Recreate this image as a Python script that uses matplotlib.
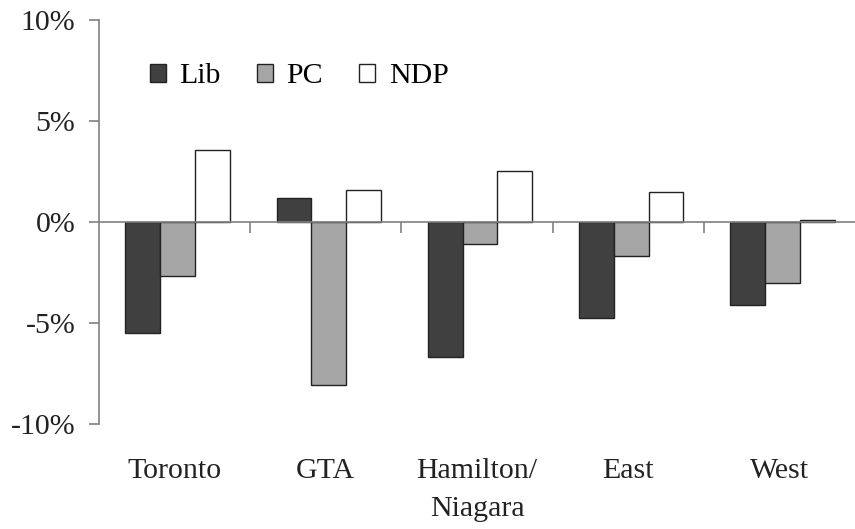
import matplotlib

matplotlib.use("Agg")
import matplotlib.pyplot as plt
import numpy as np

REGIONS = ["Toronto", "GTA", "Hamilton/\nNiagara", "East", "West"]
LIB = [-5.5, 1.15, -6.7, -4.75, -4.1]
PC = [-2.7, -8.05, -1.1, -1.7, -3.05]
NDP = [3.55, 1.55, 2.5, 1.45, 0.08]

SERIES = [("Lib", LIB, "#404040"), ("PC", PC, "#a6a6a6"), ("NDP", NDP, "#ffffff")]

plt.rcParams["font.family"] = ["Liberation Serif", "DejaVu Serif"]
FS = 21.5
AXIS_GRAY = "#808080"

fig = plt.figure(figsize=(8.55, 5.29), dpi=100)
ax = fig.add_axes([99 / 855, 105 / 529, 756 / 855, 404.5 / 529])

x = np.arange(len(REGIONS))
bw = 0.23
for i, (name, vals, col) in enumerate(SERIES):
    ax.bar(x + (i - 1) * bw + 0.02, vals, bw, color=col, edgecolor="#222222",
           linewidth=1.0, label=name, zorder=3)

ax.set_xlim(-0.5, len(REGIONS) - 0.5)
ax.set_ylim(-10, 10)
ax.set_yticks([-10, -5, 0, 5, 10])
ax.set_yticklabels(["-10%", "-5%", "0%", "5%", "10%"], fontsize=FS, color="#222222")
ax.tick_params(axis="y", direction="out", length=7, width=1.2, color=AXIS_GRAY, pad=10)

# category boundary tick marks on the zero line
ax.set_xticks(x[:-1] + 0.5)
ax.set_xticklabels([])
ax.tick_params(axis="x", direction="out", length=8, width=1.2, color=AXIS_GRAY)

for s in ["top", "right"]:
    ax.spines[s].set_visible(False)
ax.spines["left"].set_color(AXIS_GRAY)
ax.spines["left"].set_linewidth(1.2)
ax.spines["bottom"].set_position(("data", 0))
ax.spines["bottom"].set_color(AXIS_GRAY)
ax.spines["bottom"].set_linewidth(1.2)
ax.spines["bottom"].set_zorder(4)

for xi, lab in zip(x, REGIONS):
    ax.text(xi, -0.085, lab, transform=ax.get_xaxis_transform(), ha="center",
            va="top", fontsize=FS, linespacing=1.6, color="#222222")

ax.legend(loc="center left", bbox_to_anchor=(0.067, 0.86), ncol=3, frameon=False,
          fontsize=FS, handlelength=0.55, handleheight=0.55, handletextpad=0.45,
          columnspacing=1.2, borderpad=0, borderaxespad=0)

fig.savefig("out.png", dpi=100)
